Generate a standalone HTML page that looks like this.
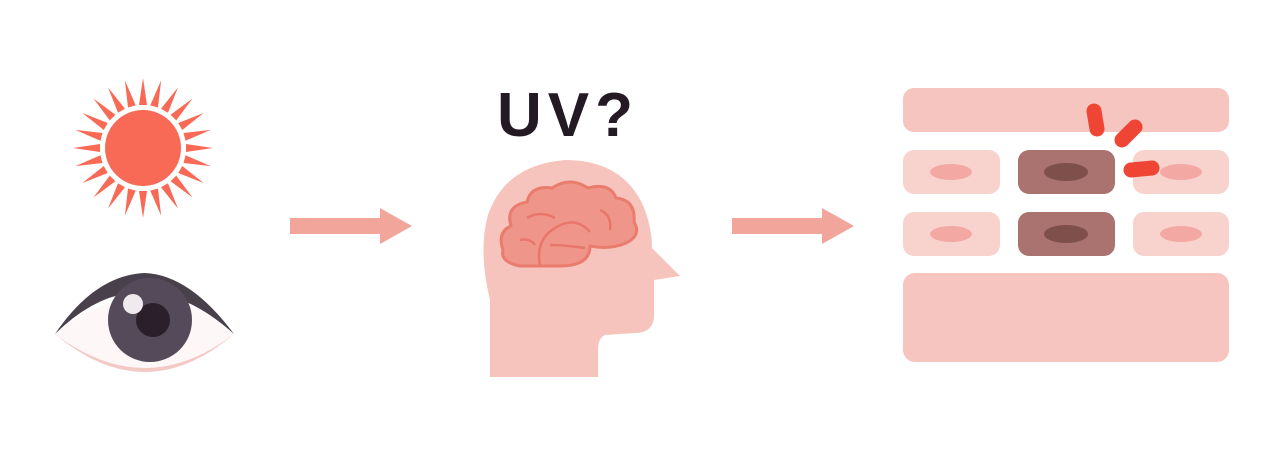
<!DOCTYPE html>
<html><head><style>body{margin:0;background:#fff}svg{display:block}</style></head>
<body>
<svg width="1280" height="472" viewBox="0 0 1280 472" xmlns="http://www.w3.org/2000/svg">
<rect width="1280" height="472" fill="#fff"/>
<!-- sun -->
<g transform="translate(143,148)" fill="#f86a55">
<g id="ray"><polygon points="-4,-43 4,-43 0,-70"/></g>
<use href="#ray" transform="rotate(15)"/><use href="#ray" transform="rotate(30)"/><use href="#ray" transform="rotate(45)"/>
<use href="#ray" transform="rotate(60)"/><use href="#ray" transform="rotate(75)"/><use href="#ray" transform="rotate(90)"/>
<use href="#ray" transform="rotate(105)"/><use href="#ray" transform="rotate(120)"/><use href="#ray" transform="rotate(135)"/>
<use href="#ray" transform="rotate(150)"/><use href="#ray" transform="rotate(165)"/><use href="#ray" transform="rotate(180)"/>
<use href="#ray" transform="rotate(195)"/><use href="#ray" transform="rotate(210)"/><use href="#ray" transform="rotate(225)"/>
<use href="#ray" transform="rotate(240)"/><use href="#ray" transform="rotate(255)"/><use href="#ray" transform="rotate(270)"/>
<use href="#ray" transform="rotate(285)"/><use href="#ray" transform="rotate(300)"/><use href="#ray" transform="rotate(315)"/>
<use href="#ray" transform="rotate(330)"/><use href="#ray" transform="rotate(345)"/>
<circle r="38"/>
</g>
<!-- eye -->
<path d="M55,334 Q145,410 234,334 Q145,380 55,334Z" fill="#f3c9c4"/>
<path d="M55,334 Q145,402 234,334 Q145,260 55,334Z" fill="#fdf7f7"/>
<path d="M55,334 Q140,250 234,334 Q190,275 145,273 Q95,275 55,334Z" fill="#48404a"/>
<circle cx="150" cy="320" r="42" fill="#554a5a"/>
<circle cx="153" cy="320" r="17" fill="#2a1f2b"/>
<circle cx="133" cy="304" r="10" fill="#eeeaee"/>
<!-- arrows -->
<polygon points="290,218 380,218 380,208 412,226 380,244 380,234 290,234" fill="#f2a59a"/>
<polygon points="732,218 822,218 822,208 854,226 822,244 822,234 732,234" fill="#f2a59a"/>
<!-- UV? -->
<text x="568" y="136" font-family="Liberation Sans, sans-serif" font-weight="bold" font-size="62" fill="#231a24" text-anchor="middle" letter-spacing="6">UV?</text>
<!-- head -->
<path d="M490,377 L490,300 Q478,250 488,215 Q505,165 565,160 Q625,160 645,210 Q652,230 652,248 L680,276 L654,280 L654,318 Q652,333 635,333 L605,335 Q598,338 598,350 L598,377Z" fill="#f6c4bd"/>
<!-- brain -->
<g fill="#f0958a" stroke="#ea7c6e" stroke-width="3">
<path d="M503,250 Q497,232 511,226 Q505,206 527,202 Q531,185 552,188 Q570,176 588,188 Q610,182 616,198 Q636,200 634,222 Q642,235 626,243 Q610,250 590,246 Q590,266 560,266 L520,266 Q500,262 503,250Z"/>
</g>
<g fill="none" stroke="#e8766a" stroke-width="2.5">
<path d="M540,266 Q535,240 555,228 Q575,215 590,232"/>
<path d="M550,245 Q565,245 585,248"/>
<path d="M527,218 Q540,210 555,218"/>
<path d="M600,210 Q612,215 610,230"/>
<path d="M520,240 Q530,238 535,245"/>
</g>
<!-- skin -->
<g>
<rect x="903" y="88" width="326" height="44" rx="11" fill="#f6c5c0"/>
<rect x="903" y="150" width="97" height="44" rx="11" fill="#f8d3ce"/>
<rect x="1018" y="150" width="97" height="44" rx="11" fill="#aa7370"/>
<rect x="1133" y="150" width="96" height="44" rx="11" fill="#f8d3ce"/>
<rect x="903" y="212" width="97" height="44" rx="11" fill="#f8d3ce"/>
<rect x="1018" y="212" width="97" height="44" rx="11" fill="#aa7370"/>
<rect x="1133" y="212" width="96" height="44" rx="11" fill="#f8d3ce"/>
<rect x="903" y="273" width="326" height="89" rx="12" fill="#f6c5c0"/>
<ellipse cx="951" cy="172" rx="21" ry="8" fill="#f4a8a3"/>
<ellipse cx="1066" cy="172" rx="22" ry="9" fill="#7e4f4b"/>
<ellipse cx="1181" cy="172" rx="21" ry="8" fill="#f4a8a3"/>
<ellipse cx="951" cy="234" rx="21" ry="8" fill="#f4a8a3"/>
<ellipse cx="1066" cy="234" rx="22" ry="9" fill="#7e4f4b"/>
<ellipse cx="1181" cy="234" rx="21" ry="8" fill="#f4a8a3"/>
</g>
<g stroke="#ef4535" stroke-width="15" stroke-linecap="round">
<line x1="1094" y1="111" x2="1097" y2="129"/>
<line x1="1135" y1="127" x2="1122" y2="140"/>
<line x1="1131" y1="170" x2="1152" y2="168"/>
</g>
</svg>
</body></html>
